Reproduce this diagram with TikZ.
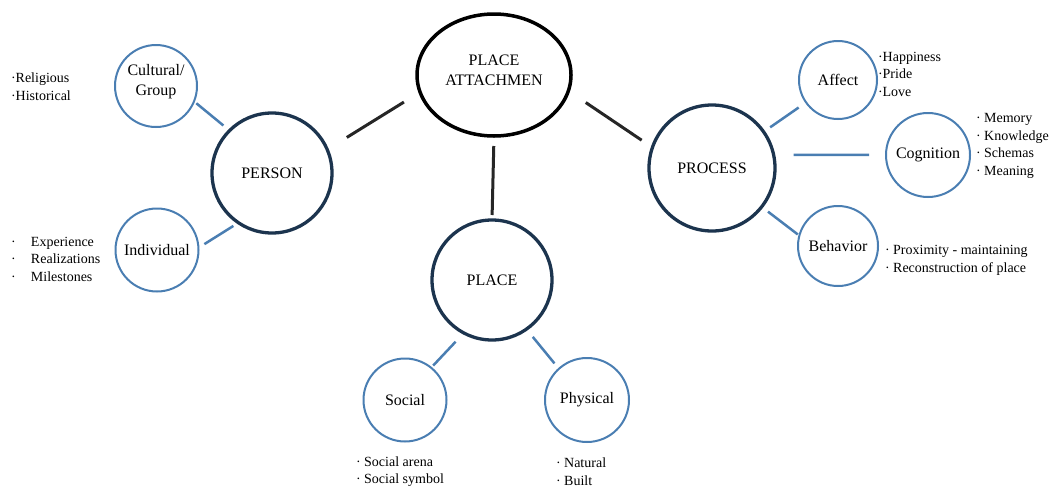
\documentclass[tikz,border=0pt]{standalone}
\usepackage{fontspec}
\setmainfont{Liberation Serif}
\usepackage{tikz}
\usetikzlibrary{shapes,positioning}
\definecolor{navy}{RGB}{28, 52, 78}
\definecolor{steel}{RGB}{74, 126, 178}
\newcommand{\listdot}[1]{\makebox[#1][l]{·}}

\begin{document}
\begin{tikzpicture}[x=1pt, y=-1pt,
  every node/.style={inner sep=0pt, outer sep=0pt, font=\fontsize{16}{20}\selectfont},
  core/.style={circle, draw=navy, line width=3.3pt, minimum size=120pt},
  leaf/.style={circle, draw=steel, line width=2pt, minimum size=83pt, align=center},
  items/.style={anchor=west, align=left, font=\fontsize{14}{17.5}\selectfont},
  trunk/.style={line width=3pt, black!85},
  twig/.style={line width=2.5pt, steel}]
\useasboundingbox (0,0) rectangle (1059,488);

% Centre
\node[ellipse, draw=black, line width=3.5pt, minimum width=154pt, minimum height=122pt, align=center, text depth=9pt] (pa) at (494,75) {PLACE\\ATTACHMEN};

% Main branches
\node[core] (person) at (272,173) {PERSON};
\node[core] (place) at (492,280) {PLACE};
\node[core, minimum size=126pt] (process) at (712,168) {PROCESS};

% Person side
\node[leaf, minimum size=82pt, text depth=13pt] (cultural) at (156,86) {Cultural/\\Group};
\node[leaf] (individual) at (157,250) {Individual};
\node[items] (cultural-list) at (11,86.5) {·Religious\\·Historical};
\node[items] (individual-list) at (11,259) {\listdot{20pt}Experience\\\listdot{20pt}Realizations\\\listdot{20pt}Milestones};

% Place side
\node[leaf] (social) at (405,400) {Social};
\node[leaf, minimum size=84pt] (physical) at (587,400) {Physical};
\node[items] (social-list) at (356,471.5) {· Social arena\\· Social symbol};
\node[items] (physical-list) at (556,471.5) {· Natural\\· Built};

% Process side
\node[leaf, minimum size=78pt] (affect) at (838,80) {Affect};
\node[leaf, minimum size=84pt] (cognition) at (928,155) {Cognition};
\node[leaf, minimum size=80pt] (behavior) at (838,246) {Behavior};
\node[items] (affect-list) at (878,74) {·Happiness\\·Pride\\·Love};
\node[items] (cognition-list) at (976,146) {· Memory\\· Knowledge\\· Schemas\\· Meaning};
\node[items] (behavior-list) at (885,260.5) {· Proximity - maintaining\\· Reconstruction of place};

% Dark links from the centre
\draw[trunk, shorten <=19pt, shorten >=23pt] (pa.193) -- (person.23);
\draw[trunk, shorten <=21pt, shorten >=13pt] (pa.348) -- (process.161);
\draw[trunk, shorten <=10pt, shorten >=5pt] (pa.south) -- (place.north);

% Blue links
\draw[twig, shorten <=3pt, shorten >=8pt] (cultural.338) -- (person.135);
\draw[twig, shorten <=7pt, shorten >=6pt] (individual.3) -- (person.236);
\draw[twig, shorten <=12pt, shorten >=3pt] (place.242) -- (social.51);
\draw[twig, shorten <=10pt, shorten >=7pt] (place.305) -- (physical.132);
\draw[twig, shorten <=8pt, shorten >=9pt] (process.35) -- (affect.215);
\draw[twig, shorten <=20pt, shorten >=17pt] (process.12) -- (cognition.180);
\draw[twig, shorten <=8pt, shorten >=2pt] (process.322) -- (behavior.165);
\end{tikzpicture}
\end{document}
